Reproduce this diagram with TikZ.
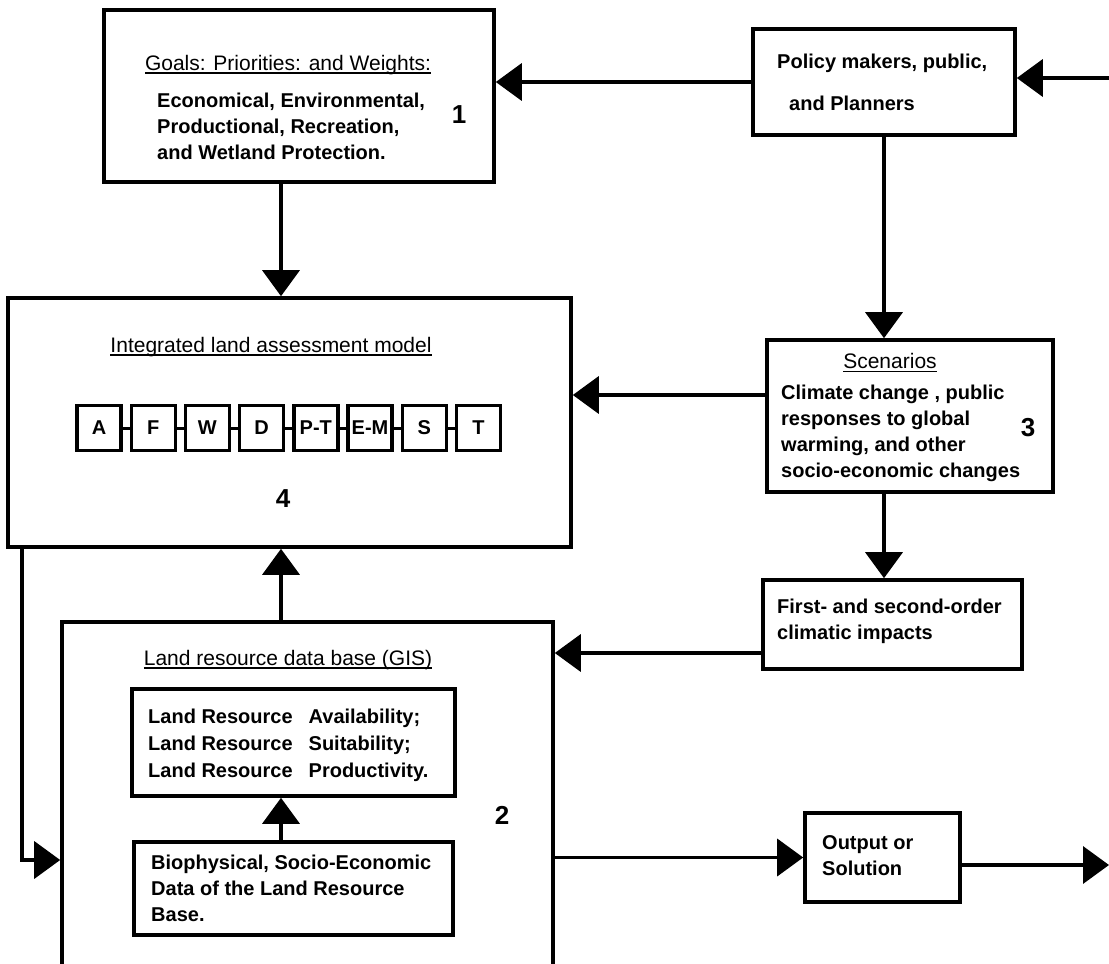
\documentclass[tikz,border=0pt]{standalone}
\usepackage{fontspec}
\setmainfont{Liberation Sans}
\usetikzlibrary{arrows.meta}
\usetikzlibrary{positioning}
\newcommand\boxtext{\fontsize{20}{26}\selectfont\bfseries}
\newcommand\boxtitle{\fontsize{21}{26}\selectfont}
\newcommand\boxnum{\fontsize{26}{30}\selectfont\bfseries}
\newcommand\ruled[1]{\setbox0\hbox{#1}\rlap{\vrule height -2pt depth 3.6pt width \wd0}\box0}
\tikzset{
  block/.style 2 args= {
    rectangle,
    draw,
    line width = 3.6pt,
    minimum width = #1,
    minimum height = #2,
    inner sep = 0pt
  },
  modbox/.style= {
    rectangle,
    draw,
    line width = 3.4pt,
    minimum width = 44pt,
    minimum height = 45pt,
    inner sep = 0pt,
    font = \boxtext
  },
  boxbody/.style= {
    font = \boxtext,
    align = left,
    inner sep = 0pt,
    anchor = west
  },
  boxhead/.style= {font = \boxtitle, inner sep = 0pt},
  boxtag/.style= {font = \boxnum, inner sep = 0pt},
  flow/.style= {line width = 3.6pt, -{Triangle[length=26pt,width=37pt]}},
  link/.style= {line width = 3pt}
}

\begin{document}
\begin{tikzpicture}[x=1pt,y=-1pt]
  \path[use as bounding box, clip] (0,0) rectangle (1109,964);

  \coordinate (spine) at (281,0);
  \coordinate (feedin) at (1109,78);
  \coordinate (loop) at (22,860);
  \coordinate (feedout) at (1109,865);

  \node[block={390pt}{172pt}] (goals) at (299,96) {};
  \node[boxhead] (goalshead) at (288,65) {\ruled{Goals: Priorities: and Weights:}};
  \node[boxbody] (goalsbody) at (157,126) {Economical, Environmental,\\Productional, Recreation,\\and Wetland Protection.};
  \node[boxtag] (one) at (459,115) {1};

  \node[block={262pt}{106pt}] (policy) at (884,82) {};
  \node[boxbody] (policyone) at (777,63) {Policy makers, public,};
  \node[boxbody] (policytwo) at (789,103) {and Planners};

  \node[block={563pt}{249pt}] (model) at (289.5,422.5) {};
  \node[boxhead] (modelhead) at (271,347) {\ruled{Integrated land assessment model}};
  \foreach \lbl [count=\i] in {A,F,W,D,P-T,E-M,S,T}
    \node[modbox] (m\i) at ({99+(\i-1)*54.2},428) {\lbl};
  \foreach \i [evaluate=\i as \j using int(\i+1)] in {1,...,7}
    \draw[link] (m\i.east) -- (m\j.west);
  \node[boxtag] (four) at (283,499) {4};

  \node[block={286pt}{152pt}] (scen) at (910,416) {};
  \node[boxhead] (scenhead) at (890,363) {\ruled{Scenarios}};
  \node[boxbody] (scenbody) at (781,433) {Climate change , public\\responses to global\\warming, and other\\socio-economic changes};
  \node[boxtag] (three) at (1028,428) {3};

  \node[block={259pt}{89pt}] (impacts) at (892.5,624.5) {};
  \node[boxbody] (impactsbody) at (777,621) {First- and second-order\\climatic impacts};

  \node[block={491pt}{382pt}] (landdb) at (307.5,813) {};
  \node[boxhead] (landhead) at (288,660) {\ruled{Land resource data base (GIS)}};
  \node[block={323pt}{107pt}] (avail) at (293.5,742.5) {};
  \node[boxbody] (availbody) at (148,745) {\begin{tabular}{@{}l@{\hspace{16pt}}l@{}}
    Land Resource & Availability;\\[1pt]
    Land Resource & Suitability;\\[1pt]
    Land Resource & Productivity.
  \end{tabular}};
  \node[block={319pt}{93pt}] (biodata) at (293.5,888.5) {};
  \node[boxbody] (biobody) at (151,888) {Biophysical, Socio-Economic\\Data of the Land Resource\\Base.};
  \node[boxtag] (two) at (502,815) {2};

  \node[block={155pt}{89pt}] (output) at (882.5,857.5) {};
  \node[boxbody] (outputbody) at (822,856) {Output or\\Solution};

  \draw[flow] (feedin) -- (feedin -| policy.east);
  \draw[flow] (policy.west) -- (policy.west -| goals.east);
  \draw[flow] (goals.south -| spine) -- (model.north -| spine);
  \draw[flow] (policy.south) -- (policy.south |- scen.north);
  \draw[flow] ([yshift=21pt]scen.west) -- ([yshift=21pt]scen.west -| model.east);
  \draw[flow] (policy.south |- scen.south) -- (policy.south |- impacts.north);
  \draw[flow] ([yshift=-28.5pt]impacts.west) -- ([yshift=-28.5pt]impacts.west -| landdb.east);
  \draw[flow] (landdb.north -| spine) -- (model.south -| spine);
  \draw[flow] (model.south -| loop) -- (loop) -- (loop -| landdb.west);
  \draw[flow] (biodata.north -| spine) -- (avail.south -| spine);
  \draw[flow] (output.west -| landdb.east) -- (output.west);
  \draw[flow] (output.east |- feedout) -- (feedout);
\end{tikzpicture}
\end{document}
